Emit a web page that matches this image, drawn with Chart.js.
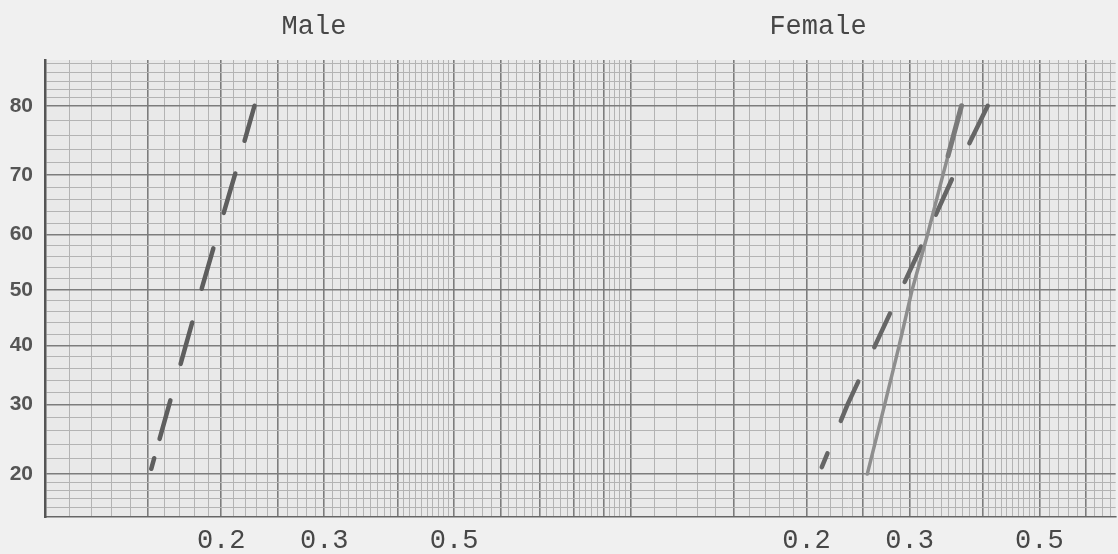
<!DOCTYPE html>
<html>
<head>
<meta charset="utf-8">
<script src="https://cdn.jsdelivr.net/npm/chart.js@4.4.1/dist/chart.umd.min.js"></script>
<style>
  html, body { margin: 0; padding: 0; background: #f0f0f0; }
  #wrap { width: 1118px; height: 554px; }
</style>
</head>
<body>
<div id="wrap"><canvas id="c" width="1118" height="554"></canvas></div>
<script>
// ---------------- data ----------------
const panelTitles = ['Male', 'Female'];

// percent (probability axis)
const malePct = [20, 30, 40, 50, 60, 70, 80];
const maleX   = [0.151, 0.163, 0.174, 0.185, 0.197, 0.211, 0.228];

const femaleSolidPct = [20, 30, 40, 50, 60, 70, 73, 80];
const femaleSolidX   = [0.254, 0.272, 0.288, 0.303, 0.322, 0.342, 0.349, 0.368];

const femaleDashPct = [20, 30, 40, 50, 60, 70, 80];
const femaleDashX   = [0.210, 0.235, 0.262, 0.290, 0.321, 0.357, 0.408];

// tick labels
const yTickLabels = [20, 30, 40, 50, 60, 70, 80];
const xTickLabels = [0.2, 0.3, 0.5];

// ---------------- probability scale ----------------
function probit(p) {
  const a = [-3.969683028665376e+01, 2.209460984245205e+02, -2.759285104469687e+02, 1.383577518672690e+02, -3.066479806614716e+01, 2.506628277459239e+00];
  const b = [-5.447609879822406e+01, 1.615858368580409e+02, -1.556989798598866e+02, 6.680131188771972e+01, -1.328068155288572e+01];
  const c = [-7.784894002430293e-03, -3.223964580411365e-01, -2.400758277161838e+00, -2.549732539343734e+00, 4.374664141464968e+00, 2.938163982698783e+00];
  const d = [7.784695709041462e-03, 3.224671290700398e-01, 2.445134137142996e+00, 3.754408661907416e+00];
  const pl = 0.02425, ph = 1 - pl;
  let q, r;
  if (p < pl) {
    q = Math.sqrt(-2 * Math.log(p));
    return (((((c[0]*q+c[1])*q+c[2])*q+c[3])*q+c[4])*q+c[5]) / ((((d[0]*q+d[1])*q+d[2])*q+d[3])*q+1);
  }
  if (p <= ph) {
    q = p - 0.5; r = q * q;
    return (((((a[0]*r+a[1])*r+a[2])*r+a[3])*r+a[4])*r+a[5])*q / (((((b[0]*r+b[1])*r+b[2])*r+b[3])*r+b[4])*r+1);
  }
  q = Math.sqrt(-2 * Math.log(1 - p));
  return -(((((c[0]*q+c[1])*q+c[2])*q+c[3])*q+c[4])*q+c[5]) / ((((d[0]*q+d[1])*q+d[2])*q+d[3])*q+1);
}
function normCdf(z) {
  const t = 1 / (1 + 0.3275911 * Math.abs(z) / Math.SQRT2);
  const y = 1 - (((((1.061405429*t - 1.453152027)*t) + 1.421413741)*t - 0.284496736)*t + 0.254829592) * t * Math.exp(-z*z/2);
  return z >= 0 ? 0.5 * (1 + y) : 0.5 * (1 - y);
}

class ProbitScale extends Chart.Scale {
  determineDataLimits() {
    this.min = this.options.min;
    this.max = this.options.max;
  }
  buildTicks() {
    return (this.options.gridValues || []).map(v => ({ value: v }));
  }
  getLabelForValue(v) { return String(v); }
  configure() {
    super.configure();
    this._zmin = probit(this.min / 100);
    this._zmax = probit(this.max / 100);
  }
  getPixelForValue(v) {
    const z = probit(v / 100);
    return this.getPixelForDecimal((z - this._zmin) / (this._zmax - this._zmin));
  }
  getValueForPixel(p) {
    const dec = this.getDecimalForPixel(p);
    return 100 * normCdf(this._zmin + dec * (this._zmax - this._zmin));
  }
  getPixelForTick(i) {
    const t = this.ticks[i];
    return t ? this.getPixelForValue(t.value) : NaN;
  }
}
ProbitScale.id = 'probit';
ProbitScale.defaults = {};
Chart.register(ProbitScale);

// ---------------- graph-paper grid values ----------------
const yGrid = [];
for (let v = 15; v < 20; v++) yGrid.push(v);
for (let v = 20; v <= 80; v += 2) yGrid.push(v);
for (let v = 81; v <= 85; v++) yGrid.push(v);

const xGrid = [];
[0.1, 1].forEach(dec => {
  for (let m = 10; m < 50; m++) xGrid.push(+(m * dec / 10).toFixed(4));
  for (let m = 50; m < 100; m += 2) xGrid.push(+(m * dec / 10).toFixed(4));
});
const X_MIN = 0.1, X_MAX = 6.748;
const xMajors = [1, 1.5, 2, 2.5, 3, 4, 5, 6, 7, 8, 9];
function isXMajor(v) {
  const m = v < 0.9999 ? v * 10 : v;
  return xMajors.some(t => Math.abs(t - m) < 1e-6) || Math.abs(v - 10) < 1e-6;
}

const toPts = (xs, ys) => xs.map((x, i) => ({ x: x, y: ys[i] }));

const bgPlugin = {
  id: 'paper',
  beforeDraw(chart) {
    const ctx = chart.ctx, a = chart.chartArea;
    ctx.save();
    ctx.fillStyle = '#f0f0f0';
    ctx.fillRect(0, 0, chart.width, chart.height);
    ctx.fillStyle = '#e9e9e9';
    ctx.fillRect(a.left, a.top, a.right - a.left, a.bottom - a.top);
    ctx.restore();
  },
  afterDraw(chart) {
    const ctx = chart.ctx;
    ctx.save();
    ctx.font = '27px "Liberation Mono", monospace';
    ctx.fillStyle = '#474747';
    ctx.textAlign = 'center';
    ctx.textBaseline = 'alphabetic';
    const xs = [314, 818];
    panelTitles.forEach((t, i) => ctx.fillText(t, xs[i], 34));
    ctx.restore();
  }
};

new Chart(document.getElementById('c'), {
  type: 'line',
  data: {
    datasets: [
      {
        label: 'Male',
        data: toPts(maleX, malePct),
        xAxisID: 'x', yAxisID: 'y',
        borderColor: '#5e5e5e', borderWidth: 4.5,
        borderDash: [11, 20, 40, 38, 43, 35, 42, 37, 41, 34, 60, 100],
        borderDashOffset: -5.5,
        borderCapStyle: 'round',
        pointRadius: 0, tension: 0, fill: false
      },
      {
        label: 'Female (solid)',
        data: toPts(femaleSolidX, femaleSolidPct),
        xAxisID: 'xf', yAxisID: 'y',
        borderColor: '#8e8e8e', borderWidth: 3.5,
        borderCapStyle: 'round',
        segment: {
          borderWidth: c => (c.p0.parsed.y >= 72.9 ? 5 : 3.5),
          borderColor: c => (c.p0.parsed.y >= 72.9 ? '#7a7a7a' : '#8e8e8e')
        },
        pointRadius: 0, tension: 0, fill: false
      },
      {
        label: 'Female (dashed)',
        data: toPts(femaleDashX, femaleDashPct),
        xAxisID: 'xf', yAxisID: 'y',
        borderColor: '#666666', borderWidth: 4.5,
        borderDash: [15, 35, 43, 38, 37, 35, 39, 35, 39, 40, 60, 100],
        borderDashOffset: -7.5,
        borderCapStyle: 'round',
        pointRadius: 0, tension: 0, fill: false
      }
    ]
  },
  options: {
    responsive: false,
    animation: false,
    devicePixelRatio: 1,
    layout: { padding: { top: 60, left: 0, right: 0, bottom: 0 }, autoPadding: false },
    plugins: { legend: { display: false }, tooltip: { enabled: false }, title: { display: false } },
    scales: {
      x: {
        type: 'logarithmic',
        position: 'bottom',
        min: X_MIN, max: X_MAX,
        afterBuildTicks: s => { s.ticks = xGrid.filter(v => v >= X_MIN && v <= X_MAX).map(v => ({ value: v })); },
        afterFit: s => { s.height = 37; },
        grid: {
          drawTicks: false,
          color: c => (c.tick && isXMajor(c.tick.value) ? '#7c7c7c' : '#b3b3b3'),
          lineWidth: c => (c.tick && isXMajor(c.tick.value) ? 1.6 : 1)
        },
        border: { display: true, color: '#666666', width: 1.5 },
        ticks: {
          autoSkip: false, maxRotation: 0, minRotation: 0, padding: 8,
          color: '#474747',
          font: { family: '"Liberation Mono", monospace', size: 27 },
          callback: (value) => {
            const v = value < 0.9999 ? value : value / 10;
            const hit = xTickLabels.find(t => Math.abs(t - v) < 1e-6);
            return hit !== undefined ? hit.toFixed(1) : '';
          }
        }
      },
      xf: {
        type: 'logarithmic',
        position: 'bottom',
        display: false,
        min: X_MIN / 10, max: X_MAX / 10
      },
      y: {
        type: 'probit',
        position: 'left',
        min: 14.97, max: 85.33,
        gridValues: yGrid,
        afterFit: s => { s.width = 45; },
        grid: {
          drawTicks: false,
          color: c => (c.tick && c.tick.value % 10 === 0 ? '#7c7c7c' : '#b3b3b3'),
          lineWidth: c => (c.tick && c.tick.value % 10 === 0 ? 1.6 : 1)
        },
        border: { display: true, color: '#555555', width: 2.5 },
        ticks: {
          autoSkip: false, padding: 12,
          color: '#555555',
          font: { family: '"Liberation Sans", Arial, sans-serif', size: 21, weight: 'bold' },
          callback: (value) => (yTickLabels.includes(value) ? String(value) : '')
        }
      }
    }
  },
  plugins: [bgPlugin]
});
</script>
</body>
</html>
